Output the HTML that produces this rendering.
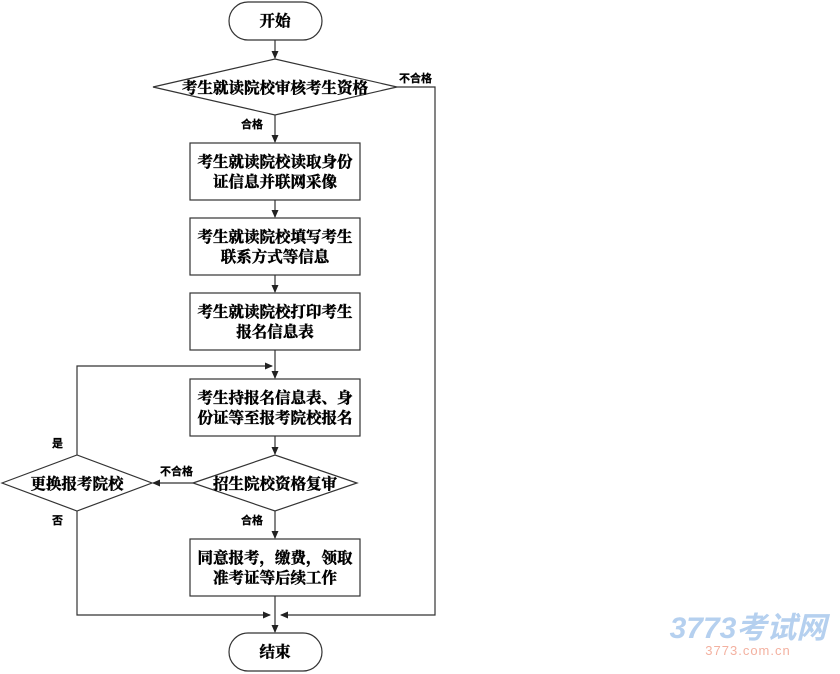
<!DOCTYPE html>
<html><head><meta charset="utf-8"><style>
html,body{margin:0;padding:0;background:#fff;}
svg{display:block}
.t{font-family:"Liberation Serif","Noto Serif CJK SC",serif;font-weight:bold;font-size:15.5px;fill:#000;stroke:#000;stroke-width:0.45;text-anchor:middle}
.l{font-family:"Liberation Sans","Noto Sans CJK SC",sans-serif;font-weight:bold;font-size:11px;fill:#000;stroke:#000;stroke-width:0.25}
.s{fill:#fff;stroke:#333;stroke-width:1.2}
.c{stroke:#333;stroke-width:1.2;fill:none}
</style></head><body>
<svg width="840" height="674" viewBox="0 0 840 674" xmlns="http://www.w3.org/2000/svg">
<defs><marker id="a" markerWidth="8" markerHeight="8" refX="7" refY="4" orient="auto" markerUnits="userSpaceOnUse"><path d="M0,0.5 L8,4 L0,7.5 z" fill="#222"/></marker></defs>
<line class="c" x1="275" y1="40" x2="275" y2="58" marker-end="url(#a)"/>
<line class="c" x1="275" y1="115" x2="275" y2="142" marker-end="url(#a)"/>
<line class="c" x1="275" y1="200" x2="275" y2="217" marker-end="url(#a)"/>
<line class="c" x1="275" y1="275" x2="275" y2="292" marker-end="url(#a)"/>
<line class="c" x1="275" y1="350" x2="275" y2="378" marker-end="url(#a)"/>
<line class="c" x1="275" y1="436" x2="275" y2="454" marker-end="url(#a)"/>
<line class="c" x1="275" y1="511" x2="275" y2="538" marker-end="url(#a)"/>
<line class="c" x1="275" y1="596" x2="275" y2="632" marker-end="url(#a)"/>
<polyline class="c" points="397,87 435,87 435,615 281,615" marker-end="url(#a)"/>
<polyline class="c" points="77,511 77,615 270,615" marker-end="url(#a)"/>
<polyline class="c" points="77,455 77,366 272,366" marker-end="url(#a)"/>
<line class="c" x1="193" y1="483" x2="153" y2="483" marker-end="url(#a)"/>
<rect class="s" x="229" y="2" width="93" height="38" rx="19"/>
<text class="t" x="275" y="26">开始</text>
<polygon class="s" points="153,87 275,59 397,87 275,115"/>
<text class="t" x="275" y="93">考生就读院校审核考生资格</text>
<rect class="s" x="190" y="143" width="170" height="57"/>
<text class="t" x="275" y="167">考生就读院校读取身份</text>
<text class="t" x="275" y="187">证信息并联网采像</text>
<rect class="s" x="190" y="218" width="170" height="57"/>
<text class="t" x="275" y="242">考生就读院校填写考生</text>
<text class="t" x="275" y="262">联系方式等信息</text>
<rect class="s" x="190" y="293" width="170" height="57"/>
<text class="t" x="275" y="317">考生就读院校打印考生</text>
<text class="t" x="275" y="337">报名信息表</text>
<rect class="s" x="190" y="379" width="170" height="57"/>
<text class="t" x="275" y="403">考生持报名信息表、身</text>
<text class="t" x="275" y="423">份证等至报考院校报名</text>
<polygon class="s" points="193,483 275,455 357,483 275,511"/>
<text class="t" x="275" y="489">招生院校资格复审</text>
<polygon class="s" points="2,483 77,455 152,483 77,511"/>
<text class="t" x="77" y="489">更换报考院校</text>
<rect class="s" x="190" y="539" width="170" height="57"/>
<text class="t" x="275" y="563">同意报考，缴费，领取</text>
<text class="t" x="275" y="583">准考证等后续工作</text>
<rect class="s" x="229" y="633" width="93" height="38" rx="19"/>
<text class="t" x="275" y="657">结束</text>
<text class="l" x="399" y="82">不合格</text>
<text class="l" x="241" y="128">合格</text>
<text class="l" x="160" y="475">不合格</text>
<text class="l" x="241" y="524">合格</text>
<text class="l" x="52" y="447">是</text>
<text class="l" x="52" y="524">否</text>
<text x="748" y="638" text-anchor="middle" style="font-family:'Liberation Sans','Noto Sans CJK SC',sans-serif;font-style:italic;font-weight:bold;font-size:30px;fill:#b5d0ef">3773考试网</text>
<text x="748" y="655" text-anchor="middle" style="font-family:'Liberation Sans',sans-serif;font-size:13px;fill:#f3b1a0;letter-spacing:1px">3773.com.cn</text>
</svg>
</body></html>
